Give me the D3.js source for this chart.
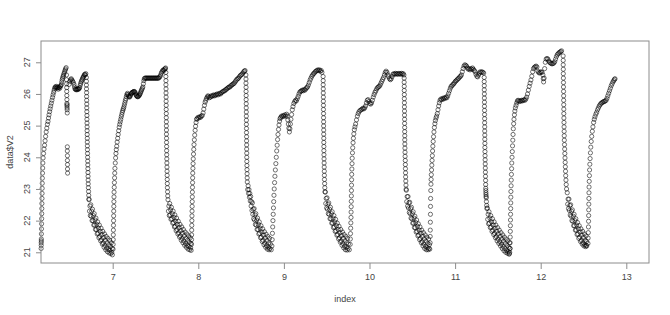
<!DOCTYPE html>
<html>
<head>
<meta charset="utf-8">
<script src="https://cdn.jsdelivr.net/npm/d3@7"></script>
<style>
  body { margin: 0; background: #fff; }
</style>
</head>
<body>
<div id="chart"></div>
<script>
// tick labels
const xTicks = [7, 8, 9, 10, 11, 12, 13];
const yTicks = [21, 22, 23, 24, 25, 26, 27];

// [index, V2], one array per warm-up/cool-down cycle
const cycle1 = [
  [6.164,21.12],[6.165,21.22],[6.165,21.3],[6.166,21.36],[6.166,21.42],[6.167,21.58],[6.168,21.74],[6.169,21.9],[6.170,22.06],[6.171,22.22],[6.172,22.38],[6.173,22.54],[6.174,22.7],[6.175,22.86],[6.176,23.02],[6.177,23.18],[6.178,23.34],[6.180,23.5],[6.182,23.66],[6.184,23.82],[6.187,23.98],
  [6.192,24.12],[6.198,24.26],[6.204,24.38],[6.210,24.52],[6.216,24.66],[6.223,24.8],[6.230,24.92],[6.237,25.04],[6.244,25.13],[6.250,25.24],[6.256,25.34],[6.263,25.44],[6.269,25.53],[6.276,25.62],[6.283,25.71],[6.290,25.8],[6.297,25.89],[6.303,25.97],[6.310,26.05],[6.316,26.12],[6.322,26.18],
  [6.328,26.22],[6.334,26.2],[6.340,26.24],[6.346,26.18],[6.352,26.22],[6.358,26.2],[6.364,26.15],[6.370,26.2],[6.376,26.22],[6.382,26.18],[6.388,26.24],[6.394,26.26],[6.400,26.3],
  [6.405,26.38],[6.410,26.45],[6.415,26.5],[6.420,26.55],[6.426,26.6],[6.432,26.65],[6.438,26.7],[6.444,26.75],[6.450,26.79],[6.456,26.83],
  [6.460,26.6],[6.461,26.45],[6.462,26.32],[6.463,26.2],[6.463,26.08],[6.464,25.95],[6.465,25.82],[6.465,25.7],[6.466,25.62],[6.467,25.56],[6.467,25.66],[6.468,25.5],[6.469,25.4],
  [6.470,24.33],[6.470,24.2],[6.471,24.05],[6.471,23.9],[6.472,23.77],[6.472,23.63],[6.473,23.5],
  [6.490,26.3],[6.500,26.4],[6.508,26.45],[6.516,26.48],[6.524,26.44],[6.532,26.4],[6.540,26.36],[6.548,26.3],[6.554,26.22],[6.560,26.16],[6.566,26.14],[6.572,26.15],[6.578,26.13],[6.584,26.16],[6.590,26.14],[6.596,26.16],[6.602,26.15],[6.608,26.18],[6.614,26.2],[6.620,26.27],[6.626,26.33],[6.632,26.38],[6.638,26.42],[6.644,26.46],[6.650,26.5],[6.656,26.53],[6.662,26.56],[6.668,26.6],[6.674,26.62],[6.680,26.6],[6.686,26.64],
  [6.692,26.52],[6.693,26.4],[6.693,26.28],[6.694,26.16],[6.695,26.04],[6.695,25.92],[6.696,25.8],[6.697,25.68],[6.697,25.56],[6.698,25.44],[6.699,25.32],[6.699,25.2],[6.700,25.08],[6.701,24.96],[6.701,24.84],[6.702,24.72],[6.703,24.6],[6.703,24.48],[6.704,24.36],[6.705,24.24],[6.706,24.12],[6.707,24.0],[6.708,23.88],[6.709,23.76],[6.710,23.64],[6.711,23.52],[6.712,23.4],[6.713,23.28],[6.714,23.16],[6.716,23.04],[6.718,22.92],[6.720,22.8],[6.722,22.68],
  [6.724,22.66],[6.734,22.46],[6.729,22.3],[6.739,22.16],
  [6.744,22.5],[6.754,22.3],[6.749,22.14],[6.759,22.0],
  [6.764,22.36],[6.774,22.16],[6.769,22.0],[6.779,21.86],
  [6.784,22.22],[6.794,22.02],[6.789,21.86],[6.799,21.72],
  [6.804,22.08],[6.814,21.88],[6.809,21.72],[6.819,21.58],
  [6.824,21.96],[6.834,21.76],[6.829,21.6],[6.839,21.46],
  [6.844,21.86],[6.854,21.66],[6.849,21.5],[6.859,21.36],
  [6.864,21.76],[6.874,21.56],[6.869,21.4],[6.879,21.26],
  [6.884,21.66],[6.894,21.46],[6.889,21.3],[6.899,21.16],
  [6.904,21.58],[6.914,21.38],[6.909,21.22],[6.919,21.08],
  [6.924,21.5],[6.934,21.3],[6.929,21.14],[6.939,21.02],
  [6.944,21.44],[6.954,21.24],[6.949,21.1],[6.959,20.98],
  [6.964,21.38],[6.974,21.18],[6.969,21.06],[6.979,20.96],
  [6.984,21.3],[6.994,21.12],[6.989,21.0],[6.996,20.92]
];

const cycle2 = [
  [7.004,21.1],[7.005,21.25],[7.006,21.4],[7.007,21.55],[7.008,21.7],[7.009,21.85],[7.010,22.0],[7.011,22.15],[7.012,22.3],[7.013,22.45],[7.014,22.6],[7.015,22.75],[7.016,22.9],[7.018,23.05],[7.020,23.2],[7.022,23.35],[7.024,23.5],[7.026,23.65],
  [7.030,23.82],[7.034,23.98],[7.038,24.12],[7.042,24.24],[7.047,24.35],[7.052,24.48],[7.058,24.6],[7.064,24.72],[7.070,24.84],[7.076,24.95],[7.082,25.04],[7.088,25.12],[7.094,25.2],[7.100,25.28],[7.106,25.35],[7.112,25.42],[7.118,25.48],[7.124,25.53],[7.130,25.58],[7.136,25.65],[7.142,25.72],[7.148,25.79],[7.154,25.85],[7.160,25.92],[7.166,25.98],[7.172,26.02],
  [7.178,25.98],[7.184,25.94],[7.190,25.92],[7.196,25.9],[7.202,25.92],[7.208,25.96],[7.214,26.0],[7.220,26.03],[7.226,26.04],[7.232,26.05],[7.238,26.06],[7.244,26.07],[7.250,26.08],[7.256,26.07],[7.262,26.04],[7.268,26.0],[7.274,25.96],[7.280,25.94],[7.286,25.92],[7.292,25.91],[7.298,25.92],[7.304,25.94],[7.310,25.96],[7.316,25.98],[7.322,26.02],[7.328,26.06],[7.334,26.1],[7.340,26.14],[7.346,26.18],[7.352,26.22],[7.358,26.32],[7.364,26.42],[7.370,26.48],
  [7.376,26.5],[7.384,26.5],[7.392,26.5],[7.400,26.5],[7.408,26.5],[7.416,26.5],[7.424,26.5],[7.432,26.5],[7.440,26.5],[7.448,26.5],[7.456,26.5],[7.464,26.5],[7.472,26.5],[7.480,26.5],[7.488,26.5],[7.496,26.5],[7.504,26.5],[7.512,26.5],[7.520,26.5],[7.528,26.5],[7.536,26.5],[7.544,26.52],[7.552,26.55],[7.560,26.6],[7.568,26.66],[7.576,26.7],[7.584,26.74],[7.592,26.76],[7.600,26.74],[7.606,26.78],[7.612,26.8],[7.618,26.82],
  [7.621,26.68],[7.621,26.55],[7.622,26.42],[7.622,26.29],[7.623,26.16],[7.623,26.03],[7.624,25.9],[7.624,25.77],[7.625,25.64],[7.625,25.51],[7.626,25.38],[7.626,25.25],[7.627,25.12],[7.627,24.99],[7.628,24.86],[7.628,24.73],[7.629,24.6],[7.629,24.47],[7.630,24.34],[7.630,24.21],[7.631,24.08],[7.632,23.95],[7.633,23.82],[7.634,23.69],[7.635,23.56],[7.636,23.43],[7.637,23.3],[7.638,23.17],[7.639,23.04],[7.641,22.91],[7.643,22.78],
  [7.646,22.66],[7.656,22.46],[7.651,22.3],[7.661,22.16],
  [7.666,22.54],[7.676,22.34],[7.671,22.18],[7.681,22.04],
  [7.686,22.42],[7.696,22.22],[7.691,22.06],[7.701,21.92],
  [7.706,22.3],[7.716,22.1],[7.711,21.94],[7.721,21.8],
  [7.726,22.18],[7.736,21.98],[7.731,21.82],[7.741,21.68],
  [7.746,22.08],[7.756,21.88],[7.751,21.72],[7.761,21.58],
  [7.766,21.98],[7.776,21.78],[7.771,21.62],[7.781,21.48],
  [7.786,21.88],[7.796,21.68],[7.791,21.52],[7.801,21.38],
  [7.806,21.8],[7.816,21.6],[7.811,21.44],[7.821,21.3],
  [7.826,21.72],[7.836,21.52],[7.831,21.36],[7.841,21.22],
  [7.846,21.64],[7.856,21.44],[7.851,21.28],[7.861,21.16],
  [7.866,21.58],[7.876,21.38],[7.871,21.22],[7.881,21.1],
  [7.886,21.52],[7.896,21.32],[7.891,21.18],[7.901,21.08],
  [7.906,21.46],[7.914,21.28],[7.911,21.14],[7.916,21.06]
];

const cycle3 = [
  [7.920,21.25],[7.921,21.4],[7.922,21.55],[7.923,21.7],[7.924,21.85],[7.925,22.0],[7.926,22.15],[7.927,22.3],[7.928,22.45],[7.929,22.6],[7.930,22.75],[7.931,22.9],[7.932,23.05],[7.933,23.2],[7.934,23.35],[7.935,23.5],[7.937,23.65],[7.939,23.8],[7.941,23.95],[7.944,24.1],[7.947,24.25],[7.950,24.4],[7.954,24.55],[7.958,24.7],[7.963,24.85],[7.968,24.98],[7.974,25.1],[7.980,25.2],
  [7.986,25.22],[7.996,25.26],[8.006,25.24],[8.016,25.28],[8.026,25.26],[8.036,25.3],[8.046,25.32],[8.056,25.4],[8.064,25.52],[8.072,25.64],[8.080,25.74],[8.088,25.8],[8.096,25.86],[8.104,25.9],[8.112,25.94],[8.120,25.92],[8.130,25.88],[8.140,25.9],[8.150,25.94],[8.160,25.92],[8.170,25.95],[8.180,25.97],[8.190,25.94],[8.200,25.96],[8.210,25.98],[8.220,26.0],[8.230,25.97],[8.240,26.0],[8.250,26.02],[8.260,26.0],[8.270,26.04],[8.280,26.06],[8.290,26.08],[8.300,26.1],[8.310,26.1],[8.320,26.14],[8.330,26.15],[8.340,26.18],[8.350,26.2],[8.360,26.22],[8.370,26.22],[8.380,26.26],[8.390,26.28],[8.400,26.3],[8.410,26.32],[8.420,26.34],[8.430,26.38],[8.440,26.42],[8.450,26.46],[8.460,26.48],[8.470,26.5],[8.480,26.54],[8.490,26.58],[8.500,26.6],[8.510,26.62],[8.520,26.66],[8.530,26.7],[8.540,26.72],[8.546,26.74],
  [8.556,26.6],[8.557,26.47],[8.557,26.34],[8.558,26.21],[8.558,26.08],[8.559,25.95],[8.559,25.82],[8.560,25.69],[8.560,25.56],[8.561,25.43],[8.561,25.3],[8.562,25.17],[8.562,25.04],[8.563,24.91],[8.563,24.78],[8.564,24.65],[8.564,24.52],[8.565,24.39],[8.565,24.26],[8.566,24.13],[8.566,24.0],[8.567,23.87],[8.568,23.74],[8.569,23.61],[8.570,23.48],[8.571,23.35],
  [8.572,23.22],[8.582,23.1],[8.577,22.98],[8.587,22.86],
  [8.592,22.98],[8.602,22.86],[8.597,22.74],[8.607,22.62],
  [8.612,22.76],[8.622,22.6],[8.617,22.46],[8.627,22.32],
  [8.632,22.56],[8.642,22.36],[8.637,22.2],[8.647,22.06],
  [8.652,22.38],[8.662,22.18],[8.657,22.02],[8.667,21.88],
  [8.672,22.22],[8.682,22.02],[8.677,21.86],[8.687,21.72],
  [8.692,22.08],[8.702,21.88],[8.697,21.72],[8.707,21.58],
  [8.712,21.96],[8.722,21.76],[8.717,21.6],[8.727,21.46],
  [8.732,21.84],[8.742,21.64],[8.737,21.48],[8.747,21.34],
  [8.752,21.74],[8.762,21.54],[8.757,21.38],[8.767,21.24],
  [8.772,21.65],[8.782,21.45],[8.777,21.29],[8.787,21.16],
  [8.792,21.57],[8.802,21.37],[8.797,21.21],[8.807,21.1],
  [8.812,21.5],[8.822,21.3],[8.817,21.16],[8.827,21.08],
  [8.832,21.44],[8.842,21.26],[8.837,21.12],[8.852,21.08]
];

const cycle4 = [
  [8.860,21.2],[8.863,21.4],[8.866,21.6],[8.869,21.8],[8.872,22.0],[8.875,22.2],[8.878,22.4],[8.881,22.6],[8.884,22.8],[8.887,23.0],[8.891,23.2],[8.895,23.4],[8.900,23.6],[8.906,23.8],[8.911,24.0],[8.916,24.2],[8.921,24.38],[8.926,24.56],[8.931,24.72],[8.937,24.88],[8.943,25.02],[8.949,25.14],[8.955,25.22],
  [8.962,25.26],[8.972,25.3],[8.982,25.28],[8.992,25.32],[9.002,25.3],[9.012,25.34],[9.022,25.3],[9.032,25.36],[9.040,25.3],[9.046,25.18],[9.052,25.05],[9.058,24.92],[9.064,24.8],[9.070,24.9],[9.076,25.05],[9.082,25.2],[9.090,25.35],[9.098,25.5],[9.106,25.6],[9.116,25.7],[9.126,25.76],[9.136,25.8],[9.146,25.78],[9.156,25.85],[9.166,25.92],[9.176,26.0],[9.186,26.06],[9.196,26.08],[9.206,26.1],[9.216,26.12],[9.226,26.1],[9.236,26.14],[9.246,26.12],[9.256,26.16],[9.266,26.2],[9.276,26.22],[9.286,26.28],[9.296,26.36],[9.306,26.44],[9.316,26.5],[9.326,26.56],[9.336,26.6],[9.346,26.64],[9.356,26.66],[9.366,26.7],[9.376,26.72],[9.386,26.74],[9.396,26.76],[9.406,26.74],[9.416,26.76],[9.426,26.72],[9.436,26.74],[9.444,26.68],
  [9.458,26.55],[9.459,26.42],[9.459,26.29],[9.460,26.16],[9.460,26.03],[9.461,25.9],[9.461,25.77],[9.462,25.64],[9.462,25.51],[9.463,25.38],[9.463,25.25],[9.464,25.12],[9.464,24.99],[9.465,24.86],[9.465,24.73],[9.466,24.6],[9.466,24.47],[9.467,24.34],[9.467,24.21],[9.468,24.08],[9.469,23.95],[9.470,23.82],[9.471,23.69],[9.472,23.56],[9.473,23.43],[9.474,23.3],[9.476,23.17],[9.478,23.04],[9.480,22.91],
  [9.484,22.9],[9.494,22.7],[9.489,22.54],[9.499,22.4],
  [9.504,22.72],[9.514,22.52],[9.509,22.36],[9.519,22.22],
  [9.524,22.56],[9.534,22.36],[9.529,22.2],[9.539,22.06],
  [9.544,22.42],[9.554,22.22],[9.549,22.06],[9.559,21.92],
  [9.564,22.28],[9.574,22.08],[9.569,21.92],[9.579,21.78],
  [9.584,22.16],[9.594,21.96],[9.589,21.8],[9.599,21.66],
  [9.604,22.04],[9.614,21.84],[9.609,21.68],[9.619,21.54],
  [9.624,21.92],[9.634,21.72],[9.629,21.56],[9.639,21.42],
  [9.644,21.82],[9.654,21.62],[9.649,21.46],[9.659,21.32],
  [9.664,21.72],[9.674,21.52],[9.669,21.36],[9.679,21.22],
  [9.684,21.64],[9.694,21.44],[9.689,21.28],[9.699,21.14],
  [9.704,21.56],[9.714,21.36],[9.709,21.2],[9.719,21.08],
  [9.724,21.5],[9.734,21.3],[9.729,21.16],[9.739,21.07],
  [9.744,21.44],[9.754,21.26],[9.749,21.12],[9.764,21.08]
];

const cycle5 = [
  [9.774,21.25],[9.776,21.42],[9.778,21.59],[9.780,21.76],[9.782,21.93],[9.784,22.1],[9.785,22.27],[9.786,22.44],[9.787,22.61],[9.788,22.78],[9.789,22.95],[9.790,23.12],[9.791,23.29],[9.792,23.46],[9.794,23.63],[9.796,23.8],[9.798,23.97],[9.801,24.14],[9.804,24.3],[9.808,24.46],[9.812,24.6],[9.817,24.74],[9.823,24.87],[9.830,24.96],[9.838,25.05],[9.848,25.18],[9.858,25.3],[9.868,25.38],[9.878,25.44],[9.890,25.48],[9.902,25.5],
  [9.914,25.52],[9.924,25.55],[9.934,25.53],[9.944,25.56],[9.954,25.62],[9.964,25.72],[9.974,25.8],[9.984,25.82],[9.994,25.76],[10.004,25.7],[10.014,25.68],[10.024,25.72],[10.034,25.8],[10.044,25.9],[10.054,25.98],[10.064,26.05],[10.074,26.1],[10.084,26.16],[10.094,26.2],[10.104,26.22],[10.114,26.24],[10.124,26.28],[10.134,26.34],[10.144,26.4],[10.154,26.46],[10.164,26.52],[10.174,26.6],[10.184,26.68],[10.194,26.72],[10.204,26.68],[10.214,26.6],[10.224,26.54],[10.234,26.48],[10.244,26.45],[10.254,26.48],[10.264,26.55],[10.274,26.62],[10.284,26.64],[10.294,26.62],[10.304,26.65],[10.314,26.63],[10.324,26.64],[10.334,26.62],[10.344,26.65],[10.354,26.64],[10.364,26.62],[10.374,26.65],[10.384,26.63],[10.394,26.64],[10.402,26.6],
  [10.405,26.5],[10.405,26.37],[10.406,26.24],[10.406,26.11],[10.407,25.98],[10.407,25.85],[10.408,25.72],[10.408,25.59],[10.409,25.46],[10.409,25.33],[10.410,25.2],[10.410,25.07],[10.411,24.94],[10.411,24.81],[10.412,24.68],[10.412,24.55],[10.413,24.42],[10.414,24.29],[10.415,24.16],[10.416,24.03],[10.418,23.9],[10.419,23.77],[10.420,23.64],[10.421,23.51],[10.422,23.38],[10.424,23.25],[10.426,23.12],[10.428,22.99],
  [10.430,22.96],[10.440,22.76],[10.435,22.6],[10.445,22.46],
  [10.450,22.76],[10.460,22.56],[10.455,22.4],[10.465,22.26],
  [10.470,22.58],[10.480,22.38],[10.475,22.22],[10.485,22.08],
  [10.490,22.42],[10.500,22.22],[10.495,22.06],[10.505,21.92],
  [10.510,22.28],[10.520,22.08],[10.515,21.92],[10.525,21.78],
  [10.530,22.14],[10.540,21.94],[10.535,21.78],[10.545,21.64],
  [10.550,22.02],[10.560,21.82],[10.555,21.66],[10.565,21.52],
  [10.570,21.9],[10.580,21.7],[10.575,21.54],[10.585,21.4],
  [10.590,21.8],[10.600,21.6],[10.595,21.44],[10.605,21.3],
  [10.610,21.7],[10.620,21.5],[10.615,21.34],[10.625,21.2],
  [10.630,21.62],[10.640,21.42],[10.635,21.26],[10.645,21.12],
  [10.650,21.55],[10.660,21.35],[10.655,21.19],[10.665,21.08],
  [10.670,21.48],[10.680,21.28],[10.675,21.14],[10.685,21.08],
  [10.690,21.42],[10.700,21.24],[10.695,21.12],[10.704,21.1]
];

const cycle6 = [
  [10.708,21.3],[10.709,21.5],[10.710,21.7],[10.711,21.95],[10.712,22.2],[10.713,22.45],[10.714,22.7],[10.716,22.95],[10.718,23.15],[10.720,23.3],[10.722,23.45],[10.725,23.6],[10.728,23.75],[10.731,23.9],[10.734,24.05],[10.737,24.2],[10.740,24.35],[10.744,24.5],[10.748,24.65],[10.753,24.8],[10.758,24.94],[10.764,25.06],[10.770,25.16],[10.777,25.24],[10.784,25.3],
  [10.792,25.38],[10.800,25.5],[10.808,25.62],[10.816,25.72],[10.824,25.8],[10.834,25.84],[10.844,25.82],[10.854,25.86],[10.864,25.84],[10.874,25.88],[10.884,25.86],[10.894,25.9],[10.904,25.88],[10.914,25.94],[10.924,26.02],[10.934,26.1],[10.944,26.18],[10.954,26.24],[10.964,26.26],[10.974,26.3],[10.984,26.32],[10.994,26.36],[11.004,26.4],[11.014,26.42],[11.024,26.45],[11.034,26.48],[11.044,26.5],[11.054,26.54],[11.064,26.56],[11.074,26.6],[11.084,26.7],[11.094,26.8],[11.104,26.88],[11.114,26.92],[11.124,26.9],[11.134,26.88],[11.144,26.82],[11.154,26.78],[11.164,26.8],[11.174,26.76],[11.184,26.8],[11.194,26.78],[11.204,26.82],[11.214,26.78],[11.224,26.74],[11.234,26.7],[11.244,26.62],[11.254,26.56],[11.264,26.54],[11.274,26.6],[11.284,26.66],[11.294,26.7],[11.304,26.68],[11.314,26.7],[11.324,26.68],[11.334,26.66],
  [11.340,26.52],[11.340,26.39],[11.341,26.26],[11.341,26.13],[11.342,26.0],[11.342,25.87],[11.343,25.74],[11.343,25.61],[11.344,25.48],[11.344,25.35],[11.345,25.22],[11.345,25.09],[11.346,24.96],[11.346,24.83],[11.347,24.7],[11.347,24.57],[11.348,24.44],[11.348,24.31],[11.349,24.18],[11.350,24.05],[11.351,23.92],[11.352,23.79],[11.353,23.66],[11.354,23.53],[11.355,23.4],[11.356,23.27],[11.357,23.14],[11.358,23.02],[11.359,22.95],[11.360,22.88],[11.361,22.82],[11.362,22.76],[11.364,22.72],[11.366,22.6],[11.369,22.48],[11.372,22.38],
  [11.376,22.4],[11.386,22.2],[11.381,22.04],[11.391,21.9],
  [11.396,22.28],[11.406,22.08],[11.401,21.92],[11.411,21.78],
  [11.416,22.16],[11.426,21.96],[11.421,21.8],[11.431,21.66],
  [11.436,22.06],[11.446,21.86],[11.441,21.7],[11.451,21.56],
  [11.456,21.96],[11.466,21.76],[11.461,21.6],[11.471,21.46],
  [11.476,21.86],[11.486,21.66],[11.481,21.5],[11.491,21.36],
  [11.496,21.78],[11.506,21.58],[11.501,21.42],[11.511,21.28],
  [11.516,21.7],[11.526,21.5],[11.521,21.34],[11.531,21.2],
  [11.536,21.62],[11.546,21.42],[11.541,21.26],[11.551,21.12],
  [11.556,21.55],[11.566,21.35],[11.561,21.19],[11.571,21.05],
  [11.576,21.48],[11.586,21.28],[11.581,21.12],[11.591,21.0],
  [11.596,21.42],[11.606,21.22],[11.601,21.06],[11.611,20.97],
  [11.616,21.36],[11.626,21.16],[11.621,21.02],[11.631,20.94],
  [11.636,21.3],[11.640,21.12],[11.638,21.0],[11.634,20.96]
];

const cycle7 = [
  [11.642,21.12],[11.643,21.3],[11.644,21.48],[11.645,21.66],[11.646,21.84],[11.647,22.02],[11.648,22.2],[11.649,22.38],[11.650,22.56],[11.651,22.74],[11.652,22.92],[11.654,23.1],[11.656,23.28],[11.658,23.46],[11.660,23.64],[11.662,23.82],[11.665,24.0],[11.668,24.18],[11.671,24.36],[11.674,24.54],[11.677,24.72],[11.680,24.9],[11.684,25.06],[11.688,25.2],[11.693,25.34],[11.698,25.46],[11.704,25.56],[11.712,25.64],[11.720,25.72],[11.728,25.78],
  [11.736,25.8],[11.746,25.78],[11.756,25.76],[11.766,25.78],[11.776,25.8],[11.786,25.78],[11.796,25.8],[11.806,25.82],[11.816,25.8],[11.826,25.84],[11.836,25.9],[11.846,26.0],[11.856,26.12],[11.866,26.24],[11.876,26.34],[11.886,26.44],[11.896,26.56],[11.906,26.7],[11.916,26.8],[11.926,26.84],[11.936,26.86],[11.946,26.88],[11.956,26.85],[11.966,26.72],[11.976,26.68],[11.986,26.66],[11.996,26.68],[12.006,26.7],[12.016,26.68],[12.026,26.6],[12.030,26.48],[12.034,26.38],[12.040,26.5],[12.046,26.8],[12.054,27.0],[12.064,27.1],[12.074,27.12],[12.084,27.1],[12.094,27.04],[12.104,27.0],[12.114,26.98],[12.124,26.96],[12.134,26.95],[12.144,26.96],[12.154,26.98],[12.164,27.02],[12.174,27.1],[12.184,27.18],[12.194,27.24],[12.204,27.27],[12.214,27.3],[12.224,27.32],[12.234,27.34],[12.244,27.36],
  [12.262,27.2],[12.263,27.06],[12.263,26.92],[12.264,26.78],[12.264,26.64],[12.265,26.5],[12.266,26.36],[12.266,26.22],[12.267,26.08],[12.268,25.94],[12.268,25.8],[12.269,25.66],[12.270,25.52],[12.270,25.38],[12.271,25.24],[12.272,25.1],[12.273,24.96],[12.274,24.82],[12.275,24.68],[12.276,24.54],[12.278,24.4],[12.280,24.26],[12.282,24.12],[12.284,23.98],[12.286,23.84],[12.288,23.7],[12.290,23.56],[12.292,23.42],[12.295,23.28],[12.298,23.14],[12.302,23.0],
  [12.310,22.88],[12.320,22.68],[12.315,22.52],[12.325,22.38],
  [12.330,22.68],[12.340,22.48],[12.335,22.32],[12.345,22.18],
  [12.350,22.5],[12.360,22.3],[12.355,22.14],[12.365,22.0],
  [12.370,22.34],[12.380,22.14],[12.375,21.98],[12.385,21.84],
  [12.390,22.2],[12.400,22.0],[12.395,21.84],[12.405,21.7],
  [12.410,22.06],[12.420,21.86],[12.415,21.7],[12.425,21.56],
  [12.430,21.94],[12.440,21.74],[12.435,21.58],[12.445,21.44],
  [12.450,21.84],[12.460,21.64],[12.455,21.48],[12.465,21.34],
  [12.470,21.74],[12.480,21.54],[12.475,21.38],[12.485,21.26],
  [12.490,21.66],[12.500,21.46],[12.495,21.3],[12.505,21.2],
  [12.510,21.58],[12.520,21.38],[12.515,21.24],[12.525,21.18],
  [12.530,21.52],[12.536,21.34],[12.533,21.22],[12.538,21.2]
];

const cycle8 = [
  [12.552,21.28],[12.554,21.45],[12.556,21.62],[12.558,21.8],[12.559,21.98],[12.560,22.16],[12.561,22.34],[12.562,22.52],[12.563,22.7],[12.564,22.88],[12.565,23.06],[12.567,23.24],[12.569,23.42],[12.571,23.6],[12.574,23.78],[12.577,23.96],[12.581,24.14],[12.585,24.32],[12.590,24.5],[12.596,24.66],[12.603,24.82],[12.610,24.96],[12.618,25.1],[12.626,25.2],[12.634,25.28],[12.644,25.36],[12.654,25.42],[12.664,25.5],[12.674,25.56],[12.684,25.62],[12.694,25.66],[12.704,25.7],[12.714,25.72],[12.724,25.74],[12.734,25.76],[12.744,25.76],[12.754,25.78],[12.764,25.8],[12.774,25.86],[12.784,25.94],[12.794,26.02],[12.804,26.1],[12.814,26.18],[12.824,26.26],[12.834,26.32],[12.844,26.38],[12.854,26.42],[12.862,26.46],[12.868,26.48]
];

const series = [cycle1, cycle2, cycle3, cycle4, cycle5, cycle6, cycle7, cycle8].flat();

const width = 670, height = 315;
const margin = { top: 41, right: 21, bottom: 52, left: 41 };
const font = "'Liberation Sans', Arial, sans-serif";
const frameColor = "#8c8c8c";
const textColor = "#444";

const x = d3.scaleLinear()
    .domain([6.1624, 13.2652])
    .range([margin.left, width - margin.right]);

const y = d3.scaleLinear()
    .domain([20.662, 27.672])
    .range([height - margin.bottom, margin.top]);

const svg = d3.select("#chart").append("svg")
    .attr("width", width)
    .attr("height", height)
    .style("background-color", "#fff");

// Points (open circles, like R's pch = 1)
svg.append("g")
    .selectAll("circle")
    .data(series)
    .join("circle")
    .attr("cx", d => x(d[0]))
    .attr("cy", d => y(d[1]))
    .attr("r", 2.1)
    .attr("fill", "none")
    .attr("stroke", "#000")
    .attr("stroke-opacity", 0.55)
    .attr("stroke-width", 1);

// Box
svg.append("rect")
    .attr("x", margin.left)
    .attr("y", margin.top)
    .attr("width", width - margin.left - margin.right)
    .attr("height", height - margin.top - margin.bottom)
    .attr("fill", "none")
    .attr("stroke", frameColor)
    .attr("stroke-width", 1);

// X axis
const xAxis = svg.append("g")
    .attr("transform", `translate(0,${height - margin.bottom})`)
    .call(d3.axisBottom(x).tickValues(xTicks).tickSize(6).tickPadding(5).tickFormat(d3.format("d")));
xAxis.select(".domain").remove();
xAxis.selectAll("line").attr("stroke", frameColor);
xAxis.selectAll("text")
    .attr("font-family", font)
    .attr("font-size", "9px")
    .attr("fill", textColor);

// Y axis, labels turned parallel to the axis
const yAxis = svg.append("g")
    .attr("transform", `translate(${margin.left},0)`)
    .call(d3.axisLeft(y).tickValues(yTicks).tickSize(5).tickFormat(""));
yAxis.select(".domain").remove();
yAxis.selectAll("line").attr("stroke", frameColor);

svg.append("g")
    .selectAll("text")
    .data(yTicks)
    .join("text")
    .attr("transform", d => `translate(30,${y(d)}) rotate(-90)`)
    .attr("text-anchor", "middle")
    .attr("font-family", font)
    .attr("font-size", "9px")
    .attr("fill", textColor)
    .text(d => d);

// Axis titles
svg.append("text")
    .attr("x", (margin.left + width - margin.right) / 2)
    .attr("y", 302)
    .attr("text-anchor", "middle")
    .attr("font-family", font)
    .attr("font-size", "9px")
    .attr("fill", textColor)
    .text("index");

svg.append("text")
    .attr("transform", `translate(13,${(margin.top + height - margin.bottom) / 2}) rotate(-90)`)
    .attr("text-anchor", "middle")
    .attr("font-family", font)
    .attr("font-size", "9px")
    .attr("fill", textColor)
    .text("data$V2");
</script>
</body>
</html>
